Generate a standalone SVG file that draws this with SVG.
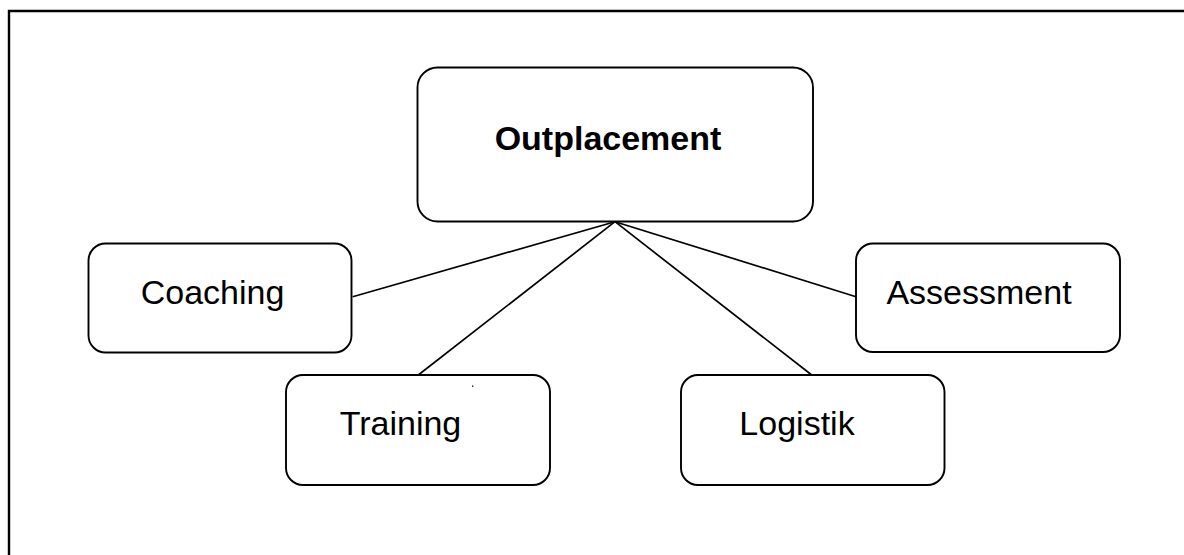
<svg xmlns="http://www.w3.org/2000/svg" width="1184" height="555" viewBox="0 0 1184 555">
<style>
.box{fill:#ffffff;stroke:#000000;stroke-width:1.9}
.lbl{font-family:"Liberation Sans",Arial,Helvetica,sans-serif;font-size:34px;fill:#000000}
.bold{font-weight:bold}
.con{stroke:#000000;stroke-width:1.7;fill:none}
</style>
<rect width="1184" height="555" fill="#ffffff"/>
<path d="M9,555 V11 H1184" fill="none" stroke="#000000" stroke-width="2.4"/>
<g id="connectors">
<line class="con" x1="615" y1="221.7" x2="352.7" y2="296.7"/>
<line class="con" x1="615" y1="221.7" x2="418.3" y2="375"/>
<line class="con" x1="615" y1="221.7" x2="811.7" y2="375"/>
<line class="con" x1="615" y1="221.7" x2="856" y2="296.7"/>
</g>
<g id="outplacement">
<rect class="box" x="417.5" y="67.5" width="395.5" height="154" rx="20" ry="20"/>
<text class="lbl bold" x="608" y="150" text-anchor="middle">Outplacement</text>
</g>
<g id="coaching">
<rect class="box" x="88.5" y="243.5" width="263" height="109" rx="17" ry="17"/>
<text class="lbl" x="212.5" y="304" text-anchor="middle">Coaching</text>
</g>
<g id="training">
<rect class="box" x="286" y="375" width="264" height="110" rx="17" ry="17"/>
<text class="lbl" x="400.5" y="435" text-anchor="middle">Training</text>
</g>
<g id="logistik">
<rect class="box" x="681" y="375" width="263.5" height="110" rx="17" ry="17"/>
<text class="lbl" x="797" y="435" text-anchor="middle">Logistik</text>
</g>
<g id="assessment">
<rect class="box" x="856" y="243.5" width="264" height="108.5" rx="17" ry="17"/>
<text class="lbl" x="979" y="304" text-anchor="middle">Assessment</text>
</g>
<rect x="472" y="385.5" width="1.3" height="1.3" fill="#000000"/>
</svg>
